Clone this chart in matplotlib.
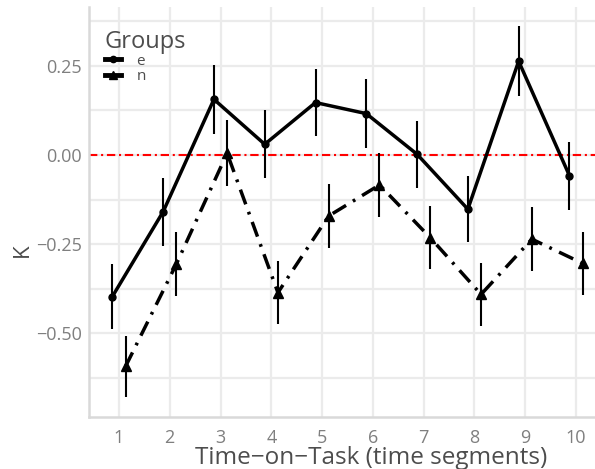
import numpy as np
import matplotlib.pyplot as plt
from matplotlib.lines import Line2D

# time segments and group estimates (kappa) with error half-widths
segments = np.arange(1, 11)
e_mean = [-0.397, -0.159, 0.156, 0.030, 0.147, 0.116, 0.002, -0.152, 0.263, -0.058]
e_err = [0.090, 0.095, 0.097, 0.095, 0.095, 0.097, 0.094, 0.093, 0.098, 0.095]
n_mean = [-0.593, -0.306, 0.005, -0.386, -0.171, -0.084, -0.232, -0.391, -0.236, -0.304]
n_err = [0.086, 0.090, 0.092, 0.088, 0.089, 0.090, 0.088, 0.088, 0.090, 0.089]
group_labels = ['e', 'n']

plt.rcParams['font.family'] = ['Open Sans', 'DejaVu Sans']

fig = plt.figure(figsize=(5.95, 4.69), dpi=100)
ax = fig.add_axes([89 / 595, 52.3 / 469, 517 / 595, 409.7 / 469])

dodge = 0.13
xe = segments - dodge
xn = segments + dodge

ax.axhline(0, color='red', lw=1.5, linestyle=(0, (4, 1.8, 1, 1.8)), zorder=2)

ax.errorbar(xe, e_mean, yerr=e_err, fmt='none', ecolor='black', elinewidth=1.5, capsize=0, zorder=3)
ax.errorbar(xn, n_mean, yerr=n_err, fmt='none', ecolor='black', elinewidth=1.5, capsize=0, zorder=3)
ax.plot(xe, e_mean, color='black', lw=2.5, marker='o', markersize=5, zorder=4)
ax.plot(xn, n_mean, color='black', lw=2.5, linestyle=(0, (4.5, 2.3, 0.8, 2.3)),
        marker='^', markersize=7, zorder=4)

ax.set_xlim(0.41, 10.59)
ax.set_ylim(-0.734, 0.415)
ax.set_xticks(segments)
ax.set_yticks([-0.5, -0.25, 0.0, 0.25])
ax.set_yticklabels(['\u22120.50', '\u22120.25', '0.00', '0.25'])
ax.set_yticks(np.arange(-0.625, 0.4, 0.25), minor=True)

ax.grid(True, which='major', color='#ebebeb', lw=1.6)
ax.grid(True, which='minor', axis='y', color='#ebebeb', lw=1.6)
ax.set_axisbelow(True)
for s in ['top', 'right']:
    ax.spines[s].set_visible(False)
for s in ['left', 'bottom']:
    ax.spines[s].set_color('#d9d9d9')
    ax.spines[s].set_linewidth(1.8)
ax.tick_params(which='both', length=0, colors='#7f7f7f', labelsize=13)
ax.tick_params(axis='x', pad=9)
ax.tick_params(axis='y', pad=5)

fig.text(371 / 595, 5 / 469, 'Time\u2212on\u2212Task (time segments)', ha='center', va='baseline',
         fontsize=17.5, color='#4d4d4d')
fig.text(22 / 595, 1 - 250 / 469, 'K', rotation=90, ha='center', va='center',
         fontsize=16, color='#4d4d4d')

handles = [Line2D([], [], color='black', lw=3.5, marker='o', markersize=4.5),
           Line2D([], [], color='black', lw=3.5, marker='^', markersize=6)]
leg = ax.legend(handles, group_labels, title='Groups', loc='upper left',
                bbox_to_anchor=(0.03, 0.945), frameon=False, fontsize=11,
                title_fontsize=17, handlelength=1.1, handletextpad=1.0,
                labelspacing=0.02, borderpad=0, borderaxespad=0)
leg._legend_box.align = 'left'
leg.get_title().set_color('#4d4d4d')
for t in leg.get_texts():
    t.set_color('#4d4d4d')

plt.savefig('out.png', dpi=100)
